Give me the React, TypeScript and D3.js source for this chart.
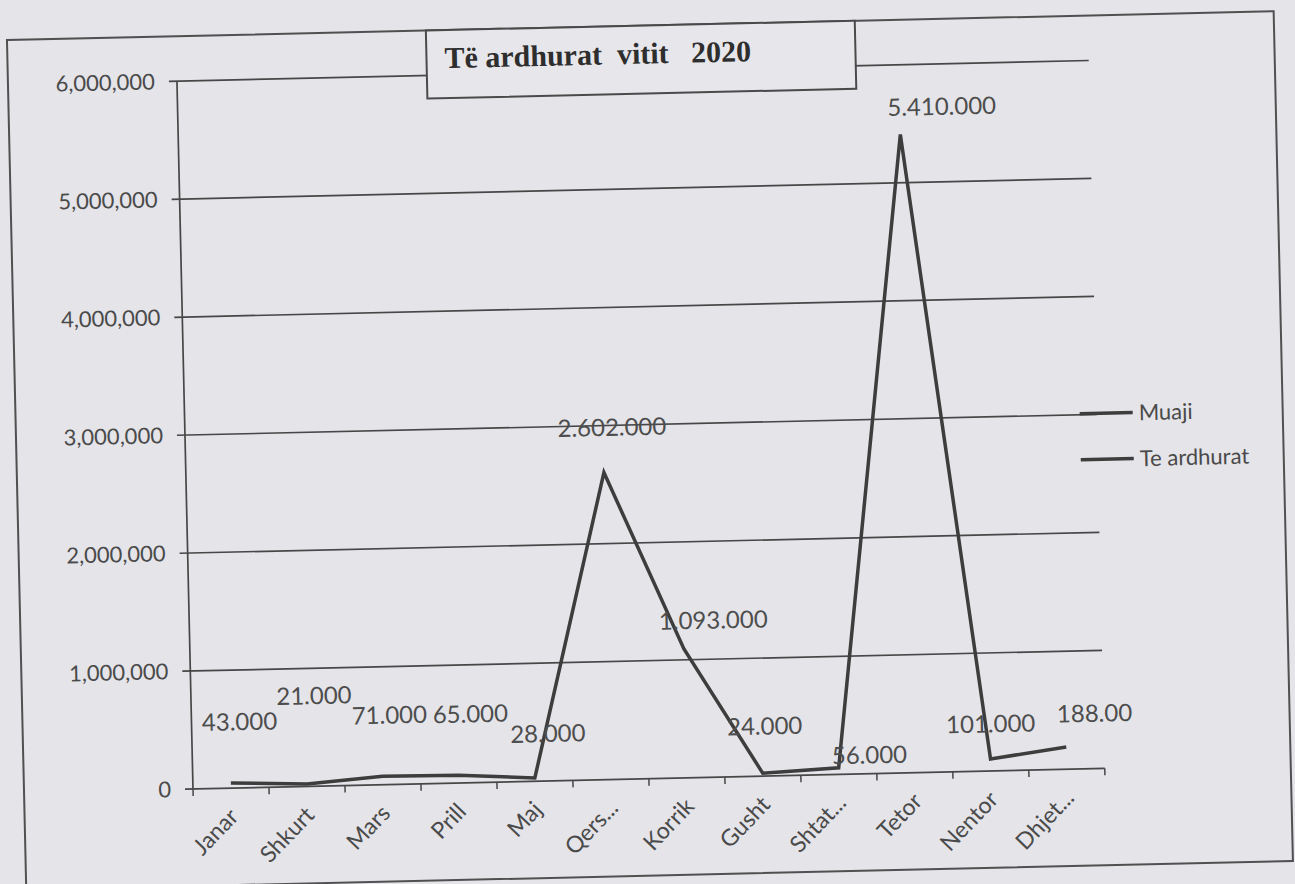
import React from 'react';
import * as d3 from 'd3';

// chart data
const months = ['Janar', 'Shkurt', 'Mars', 'Prill', 'Maj', 'Qers...', 'Korrik', 'Gusht', 'Shtat...', 'Tetor', 'Nentor', 'Dhjet...'];
const revenue = [43000, 21000, 71000, 65000, 28000, 2602000, 1093000, 24000, 56000, 5410000, 101000, 188000];
const revenueLabels = ['43.000', '21.000', '71.000', '65.000', '28.000', '2.602.000', '1.093.000', '24.000', '56.000', '5.410.000', '101.000', '188.00'];
const yTicks = [0, 1000000, 2000000, 3000000, 4000000, 5000000, 6000000];
const legendNames = ['Muaji', 'Te ardhurat'];
const title = 'Të ardhurat  vitit   2020';

// where each data label sits relative to its point (as in the original)
const labelNudge: [number, number][] = [
  [10, -61], [9, -88], [8, -61], [13, -61], [14, -44], [9, -45],
  [30, -28], [3, -47], [31, -12], [42, -27], [1, -35], [29, -33],
];

const W = 1295;
const H = 884;
const paper = '#e4e4e9';
const ink = '#3d3d3d';
const sans = 'Lato, "Open Sans", sans-serif';

const App = () => {
  const x0 = 193, x1 = 1105, yBottom = 789, yTop = 81;

  const x = d3.scaleBand<string>().domain(months).range([x0, x1]).paddingInner(0).paddingOuter(0);
  const y = d3.scaleLinear().domain([0, 6000000]).range([yBottom, yTop]);
  const cx = (m: string) => (x(m) as number) + x.bandwidth() / 2;

  const lineGen = d3.line<number>()
    .x((_, i) => cx(months[i]))
    .y(v => y(v))
    .curve(d3.curveLinear);

  const fmt = d3.format(',');
  const tickEdges = months.map(m => x(m) as number).concat([x1]);

  return (
    <svg width={W} height={H} style={{ position: 'absolute', left: 0, top: 0, display: 'block' }}>
      <rect x={0} y={0} width={W} height={H} fill={paper} />
      <g transform={`rotate(-1.3, ${x0}, ${yBottom})`}>
        {/* outer chart frame */}
        <rect x={24} y={36} width={1267} height={850} fill="none" stroke="#505050" strokeWidth={2} />

        {/* gridlines + y ticks */}
        {yTicks.map(t => (
          <line key={t} x1={x0 - 8} x2={x1} y1={y(t)} y2={y(t)} stroke="#474747" strokeWidth={1.7} />
        ))}
        <line x1={x0} x2={x0} y1={yTop} y2={yBottom} stroke="#474747" strokeWidth={1.7} />
        {yTicks.map(t => (
          <text key={'l' + t} x={x0 - 22} y={y(t)} dy="0.35em" textAnchor="end"
            fontFamily={sans} fontSize={22} fill="#4a4a4a">{fmt(t)}</text>
        ))}

        {/* x ticks + labels */}
        {tickEdges.map((e, i) => (
          <line key={'t' + i} x1={e} x2={e} y1={yBottom} y2={yBottom + 7} stroke="#474747" strokeWidth={1.5} />
        ))}
        {months.map(m => (
          <text key={m} transform={`translate(${cx(m) + 8}, ${yBottom + 30}) rotate(-45)`}
            textAnchor="end" fontFamily={sans} fontSize={23} fill="#4a4a4a">{m}</text>
        ))}

        {/* title box */}
        <rect x={443} y={36} width={429} height={68} fill="#e7e7eb" stroke="#4a4a4a" strokeWidth={2} />
        <text x={461} y={74} fontFamily='"Liberation Serif", "Times New Roman", serif' fontWeight="bold"
          fontSize={30} fill="#2e2e2e" style={{ whiteSpace: 'pre' }}>{title}</text>

        {/* series */}
        <path d={lineGen(revenue) || ''} fill="none" stroke={ink} strokeWidth={3.5} strokeLinejoin="miter" />
        {revenue.map((v, i) => (
          <text key={'v' + i} x={cx(months[i]) + labelNudge[i][0]} y={y(v) + labelNudge[i][1]} dy="0.35em"
            textAnchor="middle" fontFamily={sans} fontSize={24} fill="#4d4d4d">{revenueLabels[i]}</text>
        ))}

        {/* legend */}
        {legendNames.map((n, i) => (
          <g key={n} transform={`translate(1088, ${434 + i * 46})`}>
            <line x1={0} x2={53} y1={0} y2={0} stroke={ink} strokeWidth={3.5} />
            <text x={59} y={0} dy="0.35em" fontFamily={sans} fontSize={22} fill="#4a4a4a">{n}</text>
          </g>
        ))}
      </g>
    </svg>
  );
};

export default App;
